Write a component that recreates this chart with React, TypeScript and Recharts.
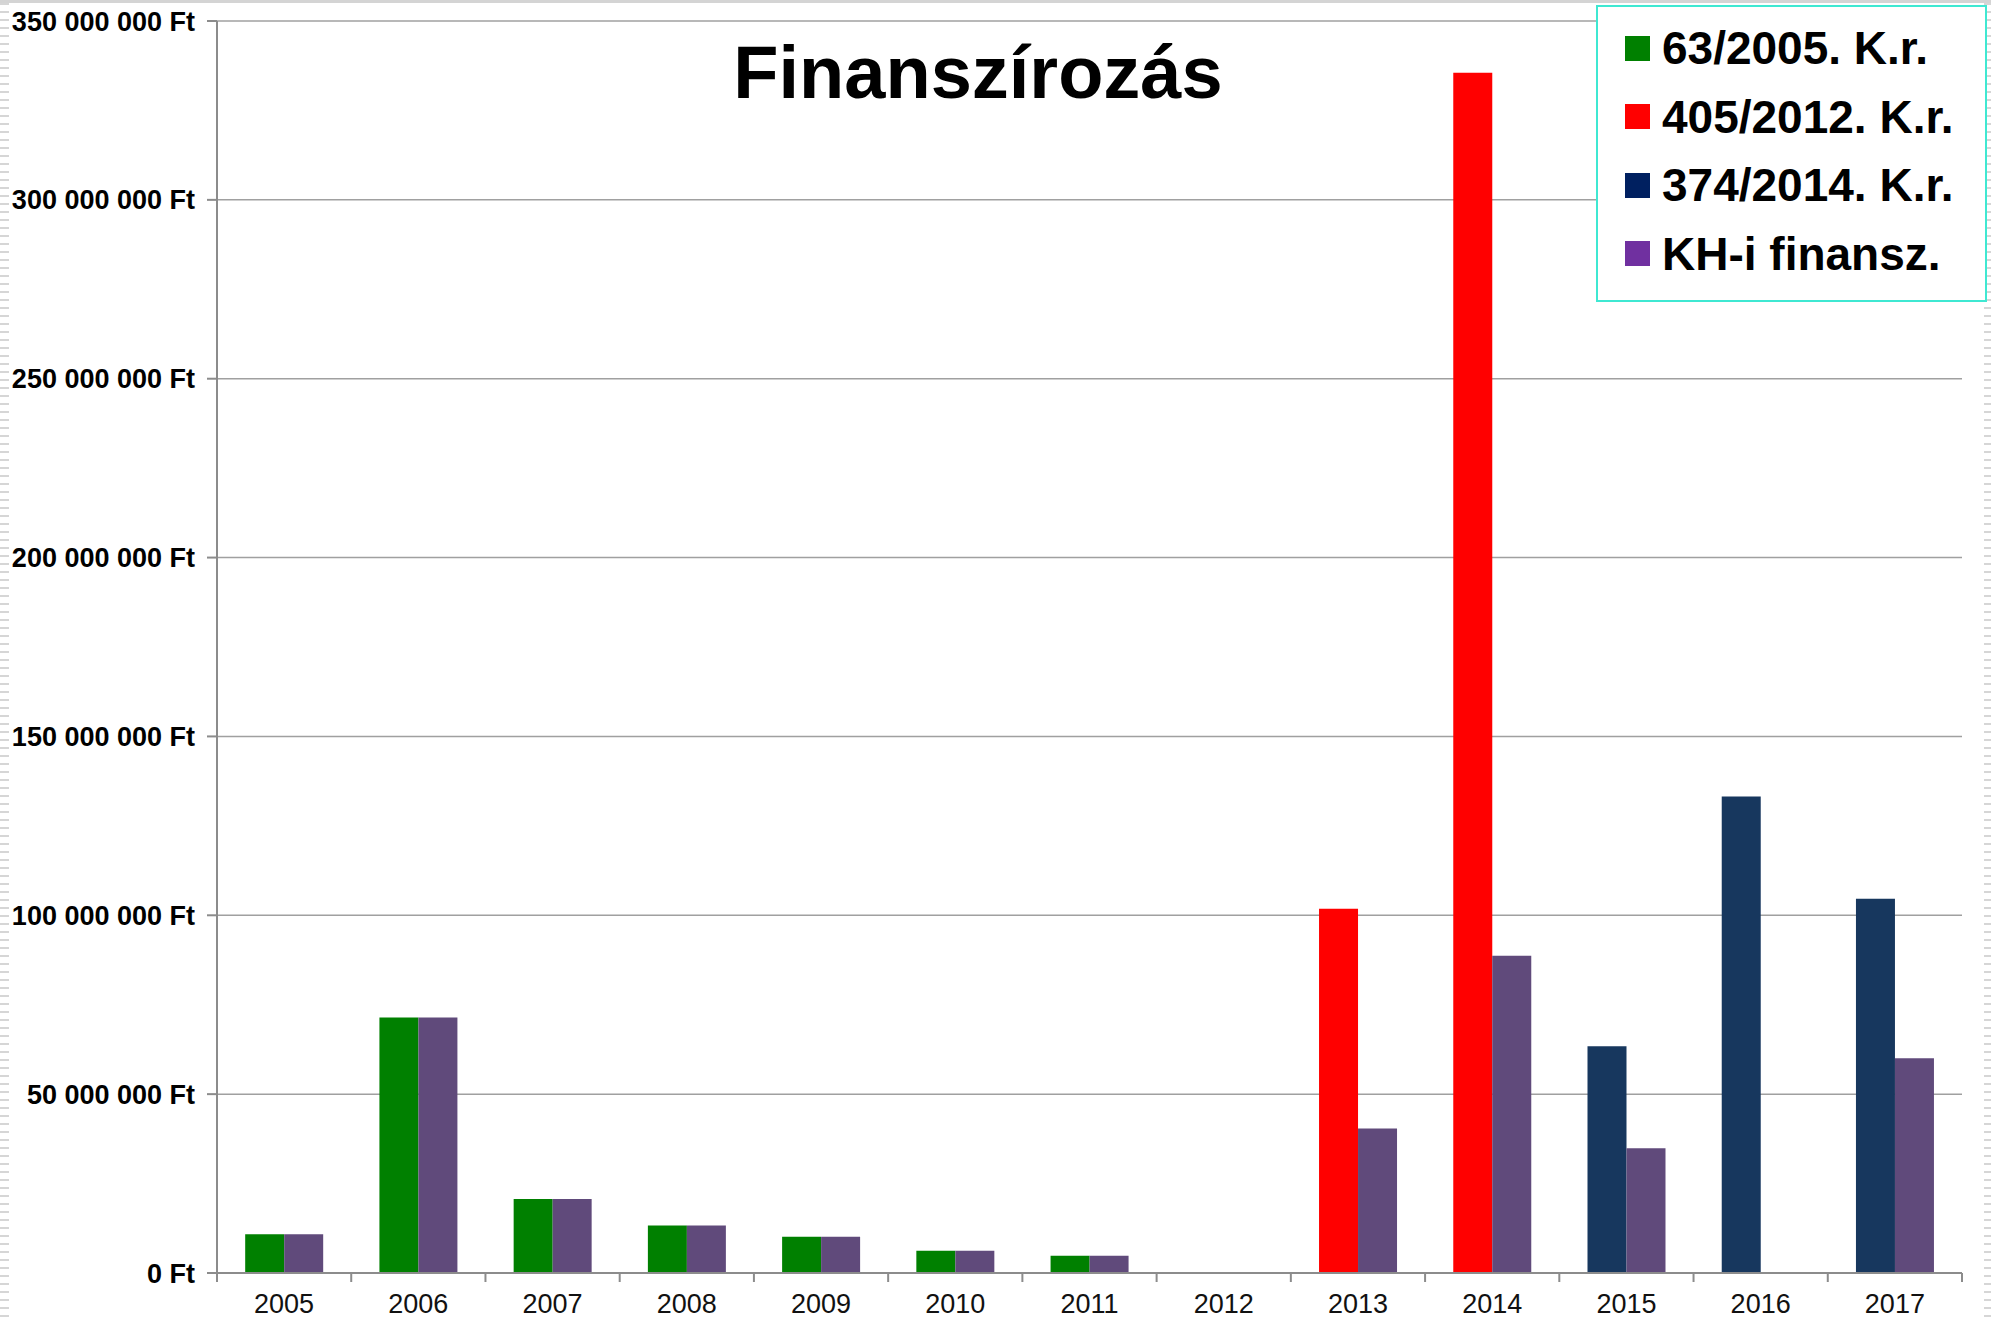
import React from 'react';
import { BarChart, Bar, XAxis, YAxis, CartesianGrid, Legend } from 'recharts';

// Values in millions of Ft
const years = ['2005', '2006', '2007', '2008', '2009', '2010', '2011', '2012', '2013', '2014', '2015', '2016', '2017'];
const reg2005 = [10.8, 71.4, 20.7, 13.3, 10.1, 6.2, 4.8, null, null, null, null, null, null];
const reg2012 = [null, null, null, null, null, null, null, null, 101.8, 335.5, null, null, null];
const reg2014 = [null, null, null, null, null, null, null, null, null, null, 63.4, 133.2, 104.6];
const khFin = [10.8, 71.4, 20.7, 13.3, 10.1, 6.2, 4.8, null, 40.4, 88.7, 34.9, null, 60.0];
const yTicks = [0, 50000000, 100000000, 150000000, 200000000, 250000000, 300000000, 350000000];

const seriesNames = ['63/2005. K.r.', '405/2012. K.r.', '374/2014. K.r.', 'KH-i finansz.'];
const barColors = ['#008000', '#FF0000', '#17375E', '#604A7B'];
const legendColors = ['#008000', '#FF0000', '#002060', '#7030A0'];

const toFt = (v: number | null) => (v == null ? null : Math.round(v * 1000000));

const data = years.map((y, i) => ({
  year: y,
  a: toFt(reg2005[i]),
  b: toFt(reg2012[i]),
  c: toFt(reg2014[i]),
  d: toFt(khFin[i]),
}));

const fmt = (v: number) => String(v).replace(/\B(?=(\d{3})+(?!\d))/g, ' ') + ' Ft';

const FONT = '"Liberation Sans", Arial, sans-serif';
const W = 1991;
const H = 1322;
const M = { top: 21, right: 29, left: 0, bottom: 4 };
const Y_W = 217;

const XTick = (props: any) => {
  const { x, y, payload, index, visibleTicksCount } = props;
  const fallback = (W - M.left - M.right - Y_W) / years.length / 2;
  const half = payload && typeof payload.offset === 'number' && payload.offset > 0 ? payload.offset : fallback;
  const last = index === (visibleTicksCount ?? years.length) - 1;
  return (
    <g>
      <line x1={x - half} x2={x - half} y1={y} y2={y + 9} stroke="#8c8c8c" strokeWidth={2} />
      {last && <line x1={x + half} x2={x + half} y1={y} y2={y + 9} stroke="#8c8c8c" strokeWidth={2} />}
      <text x={x} y={y + 31} textAnchor="middle" dominantBaseline="central" fontFamily={FONT} fontSize={27} fill="#111">
        {payload.value}
      </text>
    </g>
  );
};

const LegendBox = (props: any) => {
  const payload = (props.payload || []) as any[];
  const byKey: Record<string, any> = {};
  payload.forEach((p) => (byKey[p.dataKey] = p));
  const keys = ['a', 'b', 'c', 'd'];
  return (
    <div
      style={{
        boxSizing: 'border-box',
        width: 391,
        height: 297,
        border: '2px solid #3FE8D2',
        background: '#fff',
        paddingTop: 7,
        paddingLeft: 27,
      }}
    >
      {keys.map((k, i) => (
        <div key={k} style={{ display: 'flex', alignItems: 'center', height: 68.5 }}>
          <div style={{ width: 25, height: 25, background: legendColors[i], marginRight: 12, flexShrink: 0 }} />
          <span style={{ fontFamily: FONT, fontWeight: 'bold', fontSize: 46, color: '#000', lineHeight: 1, whiteSpace: 'nowrap' }}>
            {byKey[k]?.value ?? seriesNames[i]}
          </span>
        </div>
      ))}
    </div>
  );
};

export default function App() {
  return (
    <div style={{ position: 'absolute', left: 0, top: 0, width: W, height: H, background: '#fff', overflow: 'hidden' }}>
      <div style={{ position: 'absolute', left: 0, top: 0, width: W, height: 3, background: '#d4d4d4' }} />
      <div
        style={{
          position: 'absolute',
          left: 0,
          top: 3,
          width: 9,
          height: H - 3,
          background: 'repeating-linear-gradient(to bottom, #d6d6d6 0px, #d6d6d6 2px, transparent 2px, transparent 8px)',
        }}
      />
      <div
        style={{
          position: 'absolute',
          left: W - 7,
          top: 3,
          width: 7,
          height: H - 3,
          background: 'repeating-linear-gradient(to bottom, #d6d6d6 0px, #d6d6d6 2px, transparent 2px, transparent 8px)',
        }}
      />
      <BarChart width={W} height={H} data={data} margin={M} barCategoryGap="21%" barGap={0}>
        <CartesianGrid vertical={false} stroke="#a0a0a0" strokeWidth={1.5} />
        <XAxis
          dataKey="year"
          height={45}
          axisLine={{ stroke: '#8c8c8c', strokeWidth: 2 }}
          tickLine={false}
          tickSize={0}
          tickMargin={0}
          tick={<XTick />}
          interval={0}
        />
        <YAxis
          width={Y_W}
          domain={[0, 350000000]}
          ticks={yTicks}
          interval={0}
          tickFormatter={fmt}
          axisLine={{ stroke: '#8c8c8c', strokeWidth: 2 }}
          tickLine={{ stroke: '#8c8c8c', strokeWidth: 2 }}
          tickSize={10}
          tickMargin={12}
          tick={{ fontFamily: FONT, fontWeight: 'bold', fontSize: 27, fill: '#000' }}
        />
        <Legend
          layout="horizontal"
          verticalAlign="middle"
          align="center"
          content={<LegendBox />}
          wrapperStyle={{ position: 'absolute', left: 1596, top: 5, width: 391, height: 297 }}
        />
        <Bar dataKey="a" name={seriesNames[0]} stackId="reg" fill={barColors[0]} isAnimationActive={false} />
        <Bar dataKey="b" name={seriesNames[1]} stackId="reg" fill={barColors[1]} isAnimationActive={false} />
        <Bar dataKey="c" name={seriesNames[2]} stackId="reg" fill={barColors[2]} isAnimationActive={false} />
        <Bar dataKey="d" name={seriesNames[3]} stackId="kh" fill={barColors[3]} isAnimationActive={false} />
      </BarChart>
      <div
        style={{
          position: 'absolute',
          left: 478,
          top: 36,
          width: 1000,
          textAlign: 'center',
          fontFamily: FONT,
          fontWeight: 'bold',
          fontSize: 74,
          lineHeight: '74px',
          color: '#000',
        }}
      >
        Finanszírozás
      </div>
    </div>
  );
}
